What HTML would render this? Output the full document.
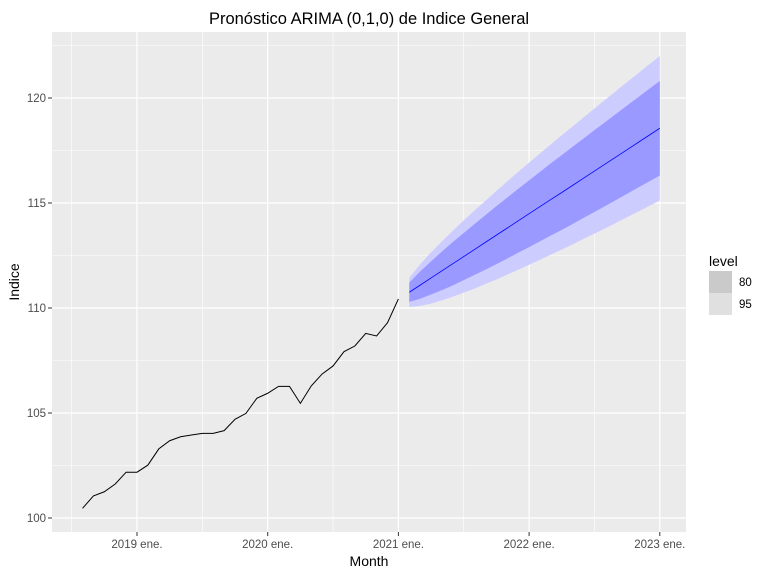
<!DOCTYPE html>
<html><head><meta charset="utf-8"><style>
body{margin:0;background:#fff;font-family:"Liberation Sans",sans-serif}
</style></head><body>
<svg id="chart" width="768" height="576" xmlns="http://www.w3.org/2000/svg" font-family="Liberation Sans, sans-serif">
<text x="369" y="24" text-anchor="middle" font-size="16.5" fill="#000">Pronóstico ARIMA (0,1,0) de Indice General</text>
<rect x="52" y="32" width="634" height="500" fill="#ebebeb"/>
<g id="grid"></g>
<g id="bands"></g>
<g id="lines"></g>
<g id="axes"></g>
<text x="369" y="566" text-anchor="middle" font-size="14" fill="#000">Month</text>
<text transform="translate(19,282) rotate(-90)" text-anchor="middle" font-size="14" fill="#000">Indice</text>
<g>
<text x="709" y="266" font-size="14" fill="#000">level</text>
<rect x="709" y="271" width="23" height="22" fill="#cacaca"/>
<text x="739" y="286" font-size="11.5" fill="#000">80</text>
<rect x="709" y="293" width="23" height="22" fill="#e0e0e0"/>
<text x="739" y="308" font-size="11.5" fill="#000">95</text>
</g>
</svg>
<script>
// history: months relative to Jan 2019 (index 0), starting Aug 2018
const histStart = -5;
const histValues = [100.46,101.05,101.25,101.62,102.18,102.18,102.52,103.29,103.68,103.87,103.95,104.03,104.03,104.16,104.70,104.98,105.70,105.94,106.27,106.27,105.46,106.29,106.86,107.24,107.92,108.19,108.79,108.67,109.30,110.43];
const fcStart = 25;
const fcMean = [110.75,111.09,111.43,111.77,112.11,112.45,112.79,113.13,113.47,113.81,114.15,114.49,114.83,115.17,115.50,115.84,116.18,116.52,116.86,117.20,117.54,117.88,118.22,118.56];
const hw80 = [.46,.65,.79,.92,1.03,1.12,1.21,1.30,1.38,1.45,1.52,1.59,1.65,1.72,1.78,1.84,1.89,1.95,2.00,2.05,2.10,2.15,2.20,2.25];
const hw95 = [.70,.99,1.22,1.40,1.57,1.72,1.86,1.98,2.11,2.22,2.33,2.43,2.53,2.63,2.72,2.81,2.89,2.98,3.06,3.14,3.22,3.29,3.37,3.44];
const yTicks = [100,105,110,115,120];
const xTickMonths = [0,12,24,36,48];
const xTickLabels = ["2019 ene.","2020 ene.","2021 ene.","2022 ene.","2023 ene."];

const NS="http://www.w3.org/2000/svg";
const X = m => 137 + m*(130.7/12);
const Y = v => 518 - (v-100)*21;
function mk(tag, attrs, parent){const e=document.createElementNS(NS,tag);for(const k in attrs)e.setAttribute(k,attrs[k]);parent.appendChild(e);return e;}
const grid=document.getElementById('grid'), bands=document.getElementById('bands'), lines=document.getElementById('lines'), axes=document.getElementById('axes');
// minor grid
for(let i=0;i<yTicks.length;i++){const v=yTicks[i]+2.5;if(Y(v)>32){const l=mk('line',{x1:52,x2:686,y1:Y(v),y2:Y(v),stroke:'#fff','stroke-width':0.6},grid);

}}
for(let i=-1;i<xTickMonths.length;i++){const m=(i<0?-12:xTickMonths[i])+6;const x=X(m);if(x>52&&x<686){const l=mk('line',{x1:x,x2:x,y1:32,y2:532,stroke:'#fff','stroke-width':0.6},grid);

}}
yTicks.forEach(v=>{const l=mk('line',{x1:52,x2:686,y1:Y(v),y2:Y(v),stroke:'#fff','stroke-width':1.2},grid);


const t=mk('text',{x:46,y:Y(v)+4,'text-anchor':'end','font-size':11.5,fill:'#4d4d4d'},axes);t.textContent=v;


const tk=mk('line',{x1:48,x2:52,y1:Y(v),y2:Y(v),stroke:'#333'},axes);

});
xTickMonths.forEach((m,i)=>{const l=mk('line',{x1:X(m),x2:X(m),y1:32,y2:532,stroke:'#fff','stroke-width':1.2},grid);


const t=mk('text',{x:X(m),y:548,'text-anchor':'middle','font-size':11.5,fill:'#4d4d4d'},axes);t.textContent=xTickLabels[i];


const tk=mk('line',{x1:X(m),x2:X(m),y1:532,y2:536,stroke:'#333'},axes);

});
function band(hw,fill,name){let up=[],dn=[];fcMean.forEach((v,i)=>{up.push(X(fcStart+i)+','+Y(v+hw[i]));dn.unshift(X(fcStart+i)+','+Y(v-hw[i]));});
const p=mk('polygon',{points:up.concat(dn).join(' '),fill:fill},bands);

}
band(hw95,'#ccccff','band-95');
band(hw80,'#9999ff','band-80');
const hp=mk('polyline',{points:histValues.map((v,i)=>X(histStart+i)+','+Y(v)).join(' '),fill:'none',stroke:'#000','stroke-width':1},lines);


const fp=mk('polyline',{points:fcMean.map((v,i)=>X(fcStart+i)+','+Y(v)).join(' '),fill:'none',stroke:'#0000ff','stroke-width':0.8},lines);


</script>
</body></html>
